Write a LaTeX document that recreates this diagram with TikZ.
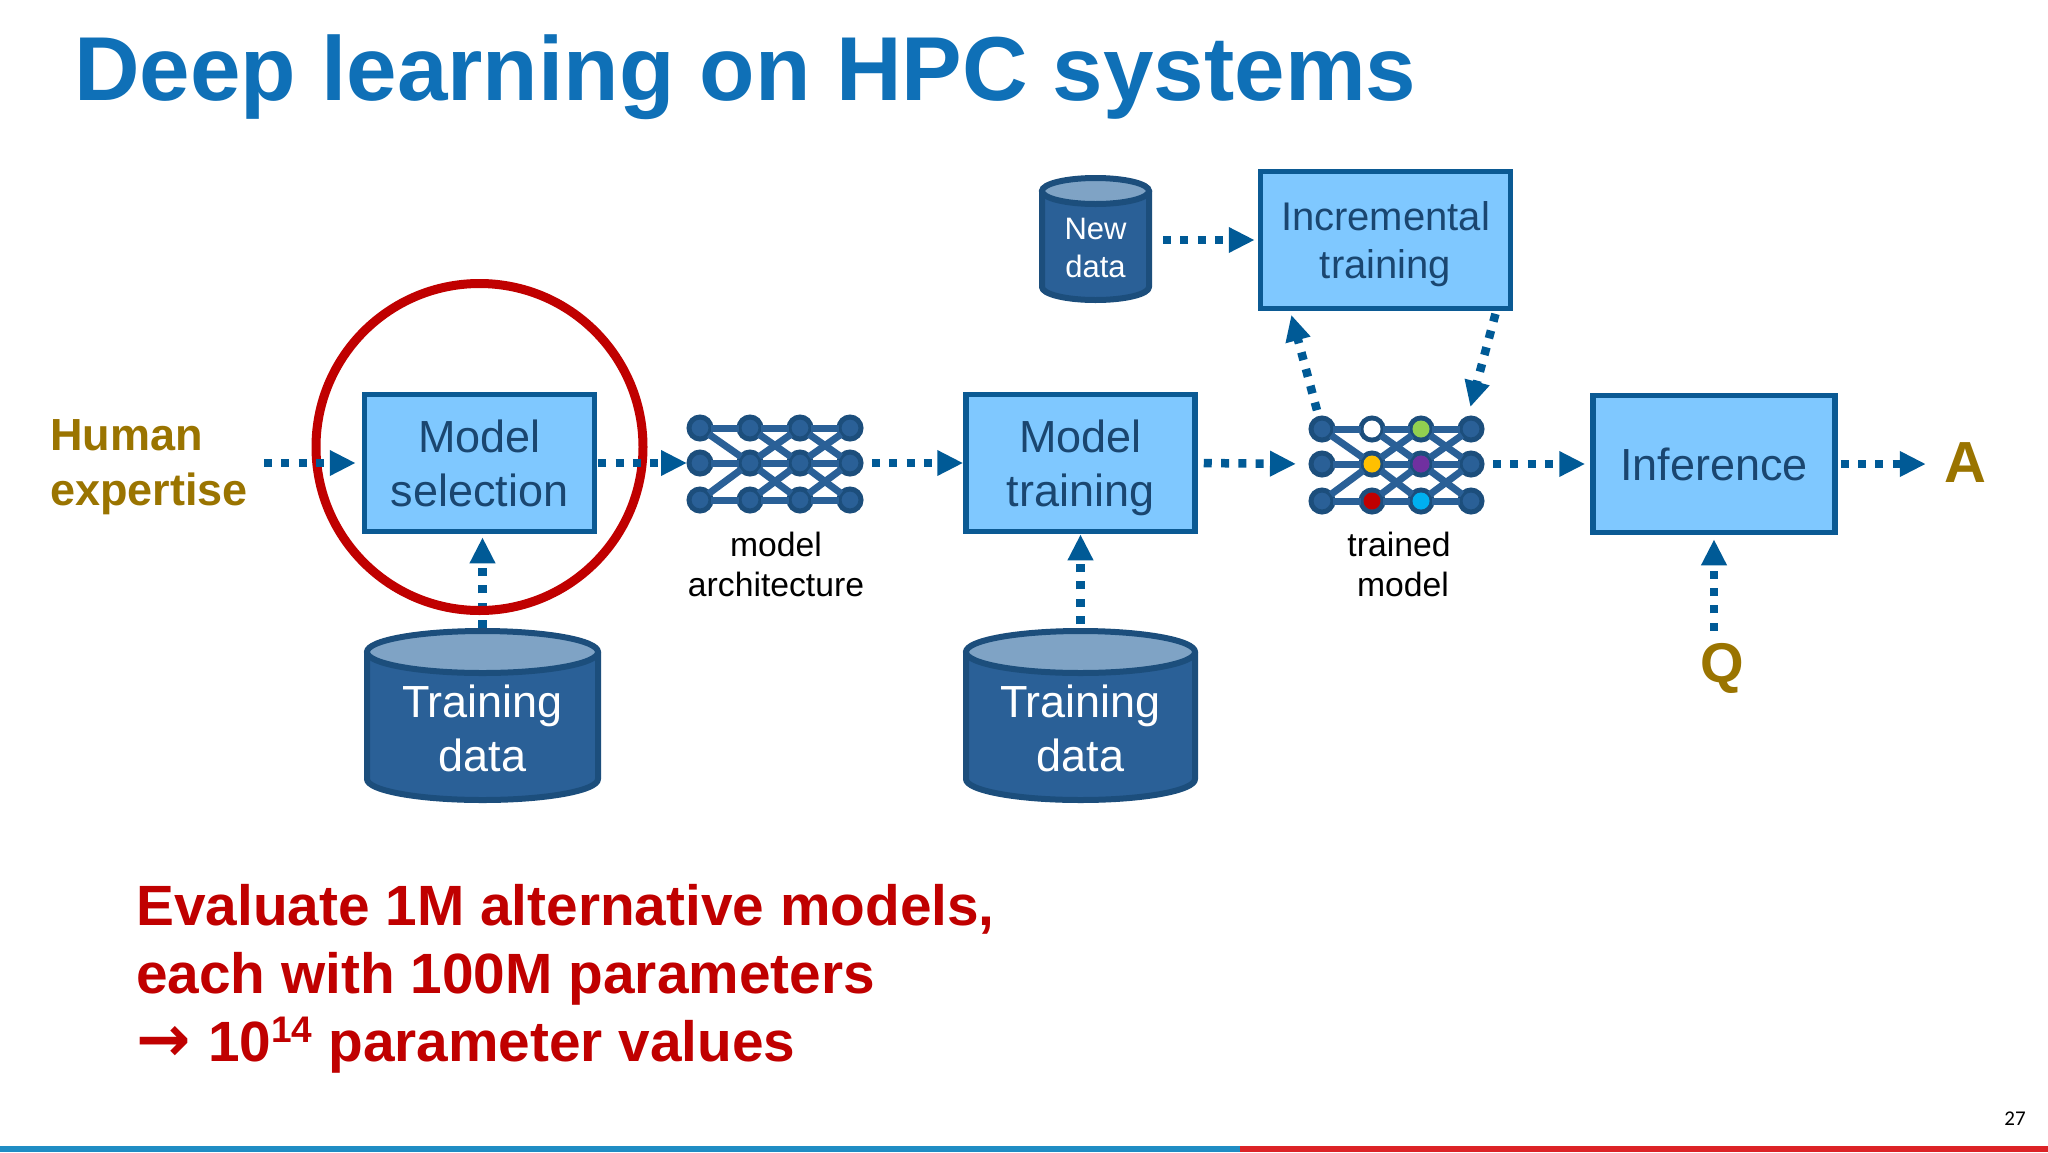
\documentclass[tikz,border=0pt]{standalone}
\usepackage{fontspec}
\setmainfont{Liberation Sans}
\newfontfamily\pagefont{Carlito}
\newfontfamily\arrowfont{DejaVu Sans}
\usetikzlibrary{arrows.meta,calc}
\definecolor{boxfill}{HTML}{7FC8FF}
\definecolor{boxline}{HTML}{0B5A94}
\definecolor{boxtext}{HTML}{1A4670}
\definecolor{cylbody}{HTML}{2A6097}
\definecolor{cylline}{HTML}{1C4E7C}
\definecolor{cyltop}{HTML}{7FA3C5}
\definecolor{flowc}{HTML}{005A96}
\definecolor{titleblue}{HTML}{0F70B7}
\definecolor{olive}{HTML}{9A7400}
\definecolor{darkred}{HTML}{C00000}
\definecolor{ngreen}{HTML}{92D050}
\definecolor{nyellow}{HTML}{FFC000}
\definecolor{npurple}{HTML}{7030A0}
\definecolor{ncyan}{HTML}{00B0F0}
\definecolor{barblue}{HTML}{1F8DC4}
\definecolor{barred}{HTML}{DC2226}
\tikzset{
  procbox/.style={draw=boxline,line width=5.5pt,fill=boxfill,text=boxtext,inner sep=0pt,align=center,
    font=\fontsize{45}{54.5}\selectfont},
  flow/.style={draw=flowc,line width=8.5pt,dash pattern=on 8pt off 9.3pt,
    -{Triangle[length=26pt,width=24pt]}},
  neuron/.style={circle,draw=cylline,line width=5pt,fill=cylbody,minimum size=22pt,inner sep=0pt,outer sep=0pt},
  synapse/.style={draw=cylbody,line width=7pt},
  plain/.style={inner sep=0pt,align=center,text=black,font=\fontsize{33.7}{40}\selectfont},
  oliveT/.style={inner sep=0pt,text=olive,font=\fontsize{45}{55}\selectfont\bfseries},
  redline/.style={anchor=base west,inner sep=0pt,text=darkred,font=\fontsize{56.8}{68}\selectfont\bfseries},
}
% name, left, right, top, bottom, ellipse half-height, font size, line skip, text
\newcommand{\drum}[9]{%
  \path[draw=cylline,line width=6pt,fill=cylbody,line join=round]
    ({#2+3},{#4+#6+3}) -- ({#2+3},{#5-#6-3})
    arc[start angle=180,end angle=360,x radius={((#3-#2-6)/2)*1pt},y radius={#6*1pt}]
    -- ({#3-3},{#4+#6+3}) -- cycle;
  \path[draw=cylline,line width=6pt,fill=cyltop]
    ({(#2+#3)/2},{#4+#6+3}) ellipse[x radius={((#3-#2-6)/2)*1pt},y radius={#6*1pt}];
  \node[inner sep=0pt,outer sep=0pt,minimum width={(#3-#2)*1pt},minimum height={(#5-#4)*1pt}] (#1) at ({(#2+#3)/2},{(#4+#5)/2}) {};
  \node[inner sep=0pt,align=center,text=white,font=\fontsize{#7}{#8}\selectfont]
    (#1-label) at ({(#2+#3)/2},{(#4+#5)/2+#6/2+2}) {#9};
}
% prefix, x1,x2,x3,x4, y1,y2,y3
\newcommand{\brain}[8]{%
  \foreach \cn/\cx in {1/#2,2/#3,3/#4,4/#5}{
    \node[neuron] (#1a\cn) at (\cx,#6) {};
    \node[neuron] (#1b\cn) at (\cx,#7) {};
    \node[neuron] (#1c\cn) at (\cx,#8) {};
  }
  \foreach \ffrom/\fto in {a1/a2,b1/b2,c1/c2,a2/a3,b2/b3,c2/c3,a3/a4,b3/b4,c3/c4,
     a1/b2,c1/b2,a2/b3,b2/a3,b2/c3,c2/b3,a3/b4,b3/a4,b3/c4,c3/b4}{
    \path[synapse] (#1\ffrom) -- (#1\fto);
  }
}
\begin{document}
\begin{tikzpicture}[x=1pt,y=-1pt]
\useasboundingbox (0,0) rectangle (2048,1152);
\fill[white] (0,0) rectangle (2048,1152);
% title
\node[anchor=base west,inner sep=0pt,text=titleblue,font=\fontsize{90.8}{100}\selectfont\bfseries] (title) at (74,100) {Deep learning on HPC systems};
% boxes
\node[procbox,minimum width=230pt,minimum height=137pt] (sel) at (479.5,463) {\rule{0pt}{42pt}Model\\selection\vphantom{g}};
\node[procbox,minimum width=229pt,minimum height=137pt] (trn) at (1080.5,463) {\rule{0pt}{42pt}Model\\training};
\node[procbox,minimum width=250pt,minimum height=137pt,font=\fontsize{40}{48}\selectfont] (inc) at (1385.5,240) {\rule{0pt}{37pt}Incremental\\training};
\node[procbox,minimum width=242pt,minimum height=137pt] (inf) at (1714,464) {\rule{0pt}{34pt}Inference};
% drums
\drum{data1}{364}{601}{628}{803}{21}{45}{54}{Training\\data}
\drum{data2}{963}{1198}{628}{803}{21}{45}{54}{Training\\data}
\drum{newd}{1039}{1152}{175}{303}{13}{31}{38}{New\\data}
% networks
\brain{u}{700}{750}{800}{850}{428}{463}{500}
\brain{t}{1322}{1372}{1421}{1471}{429}{464}{501}
\fill[white] (ta2) circle (8.5pt);
\fill[ngreen] (ta3) circle (8.5pt);
\fill[nyellow] (tb2) circle (8.5pt);
\fill[npurple] (tb3) circle (8.5pt);
\fill[darkred] (tc2) circle (8.5pt);
\fill[ncyan] (tc3) circle (8.5pt);
% labels
\node[plain] (archlabel) at (776,564) {model\\architecture};
\node[plain] (trainedlabel) at (1399,564) {trained\\\hspace*{8pt}model};
\node[oliveT,align=left,anchor=west] (human) at (50,467) {Human\\expertise};
\node[inner sep=0pt,text=olive,font=\fontsize{58}{60}\selectfont\bfseries] (ansA) at (1965,463) {A};
\node[inner sep=0pt,text=olive,font=\fontsize{56}{60}\selectfont\bfseries] (ansQ) at (1722,668) {Q};
% vertical flow under the circle
\path[flow,shorten >=3pt] (data1.north) -- (data1.north |- sel.south);
% circle
\node[circle,draw=darkred,line width=9pt,minimum size=327pt,inner sep=0pt] (focus) at (479.5,447) {};
% flows
\path[flow,shorten <=16pt,shorten >=6pt] (human.east |- sel.west) -- (sel.west);
\path[flow,shorten <=1pt,shorten >=2pt] (sel.east) -- (ub1.west);
\path[flow,shorten <=11pt,shorten >=0pt] (ub4.east) -- (trn.west);
\path[flow,shorten <=6pt,shorten >=15pt] (trn.east) -- (tb1.west);
\path[flow,shorten <=11pt,shorten >=5pt] (tb4.east) -- (inf.west);
\path[flow,shorten <=3pt,shorten >=18pt] (inf.east) -- (ansA.west |- inf.east);
\path[flow,shorten <=4pt,shorten >=0pt] (data2.north) -- (data2.north |- trn.south);
\path[flow,shorten <=12pt,shorten >=4pt] (inf.south |- ansQ.north) -- (inf.south);
\path[flow,shorten <=11pt,shorten >=3pt] (newd.east |- inc.west) -- (inc.west);
\coordinate (incL) at (1290,310);
\coordinate (incR) at (1496.5,310);
\path[flow,shorten <=8.5pt,shorten >=5pt] (ta1) -- (incL);
\path[flow,shorten <=4pt,shorten >=12pt] (incR) -- (ta4.110);
% red text
\node[redline] (red1) at (136,925) {Evaluate 1M alternative models,};
\node[redline] (red2) at (136,993) {each with 100M parameters};
\node[redline] (red3) at (136,1061) {\makebox[72pt][l]{\arrowfont\bfseries\fontsize{65}{68}\selectfont →}10\raisebox{0.32em}{\fontsize{37}{40}\selectfont 14} parameter values};
% footer
\fill[barblue] (0,1146) rectangle (1240,1152);
\fill[barred] (1240,1146) rectangle (2048,1152);
\node[inner sep=0pt,text=black,font=\pagefont\fontsize{21}{24}\selectfont] (pagenum) at (2015,1119) {27};
\end{tikzpicture}
\end{document}
